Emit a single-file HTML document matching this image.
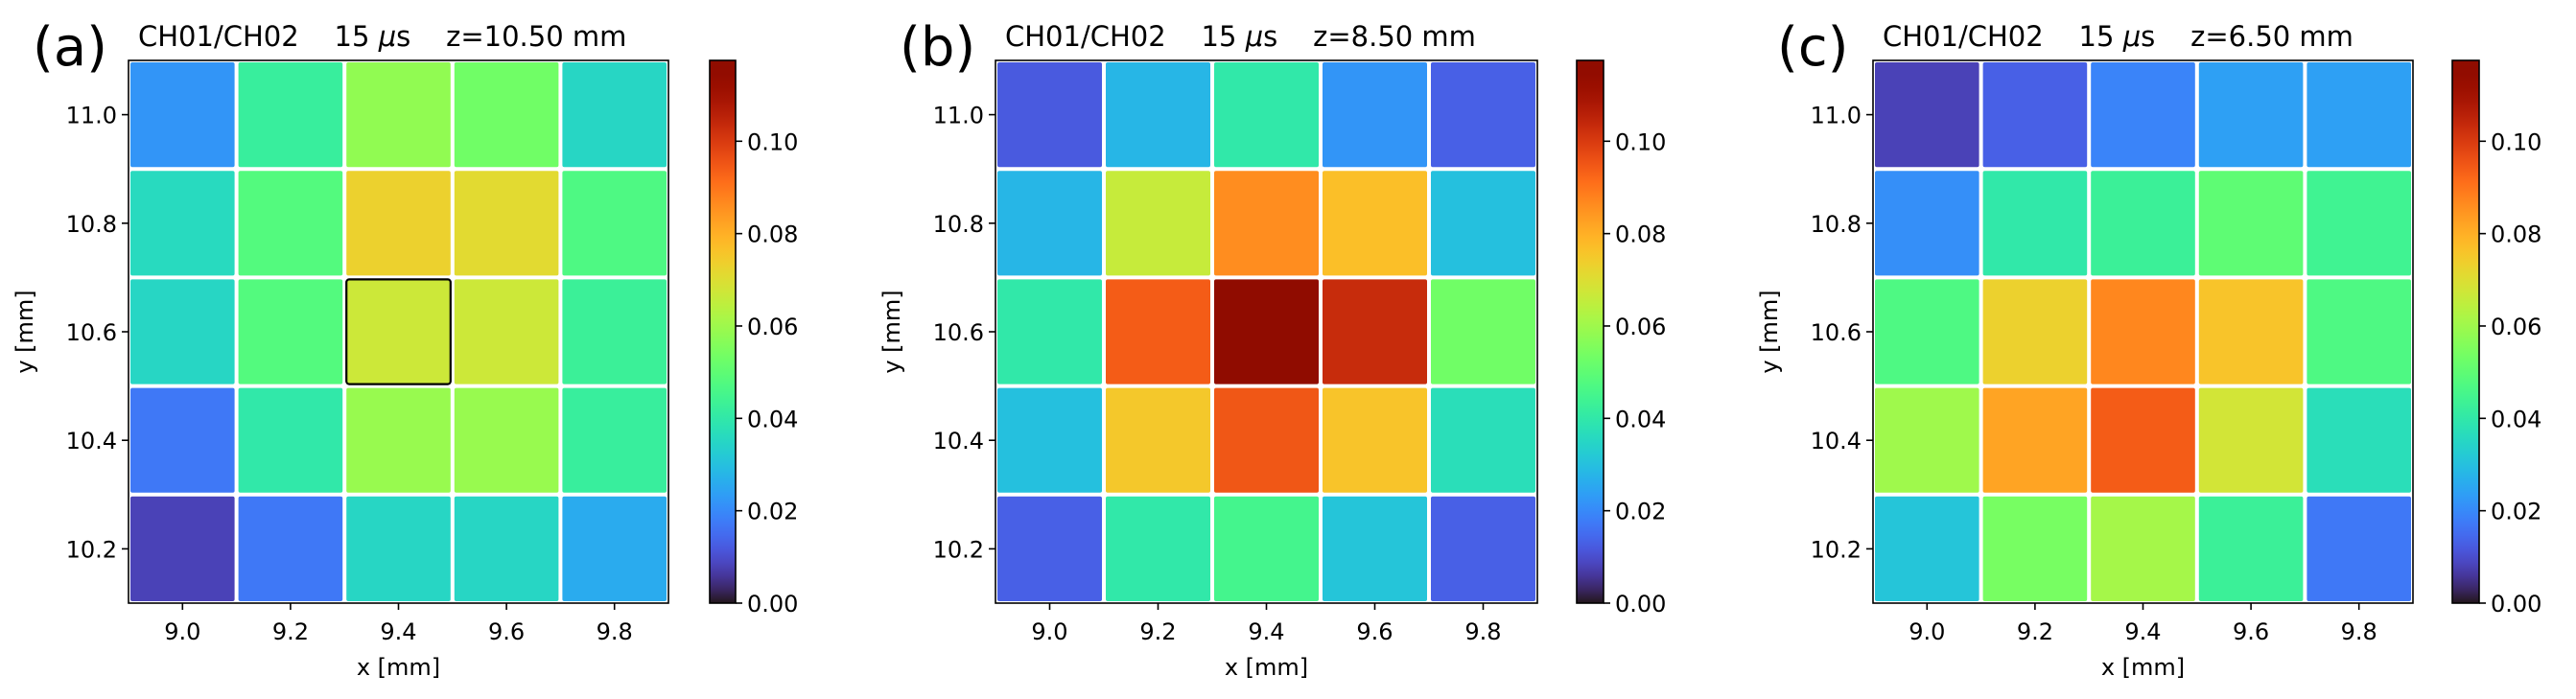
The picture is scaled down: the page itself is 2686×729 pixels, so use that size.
<!DOCTYPE html>
<html><head><meta charset="utf-8"><style>
html,body{margin:0;padding:0;background:#fff;}
svg{display:block;font-family:"DejaVu Sans","Liberation Sans",sans-serif;}
</style></head><body>
<svg id="fig" width="2686" height="729" viewBox="0 0 2686 729"></svg>
<script>
const xCats=[9.0,9.2,9.4,9.6,9.8];
const yCats=[11.0,10.8,10.6,10.4,10.2];
const xTicks=["9.0","9.2","9.4","9.6","9.8"];
const yTicks=["11.0","10.8","10.6","10.4","10.2"];
const cbTicks=[0,0.02,0.04,0.06,0.08,0.10];
const cbLabels=["0.00","0.02","0.04","0.06","0.08","0.10"];
const vmax=0.1175;
const valuesA=[[0.022,0.042,0.058,0.053,0.035],[0.036,0.048,0.073,0.071,0.047],[0.035,0.048,0.067,0.067,0.043],[0.017,0.040,0.059,0.059,0.042],[0.008,0.017,0.035,0.035,0.026]];
const valuesB=[[0.012,0.028,0.040,0.022,0.013],[0.028,0.066,0.086,0.077,0.030],[0.040,0.094,0.117,0.103,0.053],[0.030,0.075,0.095,0.076,0.037],[0.013,0.040,0.045,0.031,0.013]];
const valuesC=[[0.008,0.013,0.019,0.024,0.024],[0.021,0.040,0.043,0.050,0.044],[0.047,0.073,0.087,0.076,0.047],[0.060,0.082,0.094,0.068,0.037],[0.031,0.054,0.061,0.043,0.017]];
const panelLabels=["(a)","(b)","(c)"];
const zLabels=["10.50","8.50","6.50"];
const highlight=[[9.4,10.6],null,null];

function turbo(t){t=Math.max(0,Math.min(1,t));
const r=0.13572138+t*(4.61539260+t*(-42.66032258+t*(132.13108234+t*(-152.94239396+t*59.28637943))));
const g=0.09140261+t*(2.19418839+t*(4.84296658+t*(-14.18503333+t*(4.27729857+t*2.82956604))));
const b=0.10667330+t*(12.64194608+t*(-60.58204836+t*(110.36276771+t*(-89.90310912+t*27.34824973))));
const c=v=>Math.round(Math.max(0,Math.min(1,v))*255);
return `rgb(${c(r)},${c(g)},${c(b)})`;}
const NS="http://www.w3.org/2000/svg";
const svg=document.getElementById('fig');
function el(tag,attrs,parent,text){const e=document.createElementNS(NS,tag);for(const k in attrs)e.setAttribute(k,attrs[k]);if(text!==undefined)e.textContent=text;(parent||svg).appendChild(e);return e;}

const defs=el('defs',{});
const grad=el('linearGradient',{id:'turbo',x1:0,y1:1,x2:0,y2:0},defs);
for(let i=0;i<=40;i++){el('stop',{offset:(i/40),'stop-color':turbo(i/40)},grad);}

const panels=[
 {L:134,R:697,T:63,B:629,cbL:740,cbR:767,vals:valuesA},
 {L:1038,R:1603,T:63,B:629,cbL:1644,cbR:1672,vals:valuesB},
 {L:1953,R:2516,T:63,B:629,cbL:2557,cbR:2585,vals:valuesC}
];
panels.forEach((p,pi)=>{
 const g=el('g',{});
 
 
 const sx=v=>p.L+(v-8.9)/1.0*(p.R-p.L);
 const sy=v=>p.B-(v-10.1)/1.0*(p.B-p.T);
 const cw=(p.R-p.L)*0.2, ch=(p.B-p.T)*0.2;
 p.vals.forEach((row,ri)=>row.forEach((v,ci)=>{
  const x0=sx(xCats[ci]-0.1), y0=sy(yCats[ri]+0.1);
  const r=el('rect',{x:x0+2,y:y0+2,width:cw-4,height:ch-4,rx:2,fill:turbo(v/vmax)},g);
  
  
 }));
 if(highlight[pi]){const h=highlight[pi];
  const r=el('rect',{x:sx(h[0]-0.1)+2,y:sy(h[1]+0.1)+2,width:cw-4,height:ch-4,rx:3,fill:'none',stroke:'#000','stroke-width':2.2},g);
  
  }
 el('rect',{x:p.L,y:p.T,width:p.R-p.L,height:p.B-p.T,fill:'none',stroke:'#000','stroke-width':1.6},g);
 xCats.forEach((v,i)=>{const x=sx(v);el('line',{x1:x,x2:x,y1:p.B,y2:p.B+7,stroke:'#000','stroke-width':1.6},g);
  const t=el('text',{x:x,y:667,'text-anchor':'middle','font-size':24},g,xTicks[i]);
  });
 yCats.forEach((v,i)=>{const y=sy(v);el('line',{x1:p.L-7,x2:p.L,y1:y,y2:y,stroke:'#000','stroke-width':1.6},g);
  const t=el('text',{x:p.L-12,y:y+9,'text-anchor':'end','font-size':24},g,yTicks[i]);
  });
 const xl=el('text',{x:(p.L+p.R)/2,y:704,'text-anchor':'middle','font-size':24},g,'x [mm]');
 
 const yx=p.L-100;
 const yl=el('text',{x:yx,y:(p.T+p.B)/2,'text-anchor':'middle','font-size':24,transform:`rotate(-90 ${yx} ${(p.T+p.B)/2})`},g,'y [mm]');
 
 const tt=el('text',{x:p.L+10,y:48,'font-size':29},g);
 
 el('tspan',{},tt,'CH01/CH02    15 ');
 el('tspan',{'font-style':'italic'},tt,'μ');
 el('tspan',{},tt,'s    z='+zLabels[pi]+' mm');
 tt.setAttribute('xml:space','preserve');tt.style.whiteSpace='pre';
 const pl=el('text',{x:p.L-100,y:68,'font-size':56},g,panelLabels[pi]);
 
 const cb=el('rect',{x:p.cbL,y:p.T,width:p.cbR-p.cbL,height:p.B-p.T,fill:'url(#turbo)',stroke:'#000','stroke-width':1.6},g);
 
 cbTicks.forEach((v,i)=>{const y=p.B-v/vmax*(p.B-p.T);
  el('line',{x1:p.cbR,x2:p.cbR+7,y1:y,y2:y,stroke:'#000','stroke-width':1.6},g);
  const t=el('text',{x:p.cbR+12,y:y+9,'font-size':24},g,cbLabels[i]);
  });
});
</script>
</body></html>
